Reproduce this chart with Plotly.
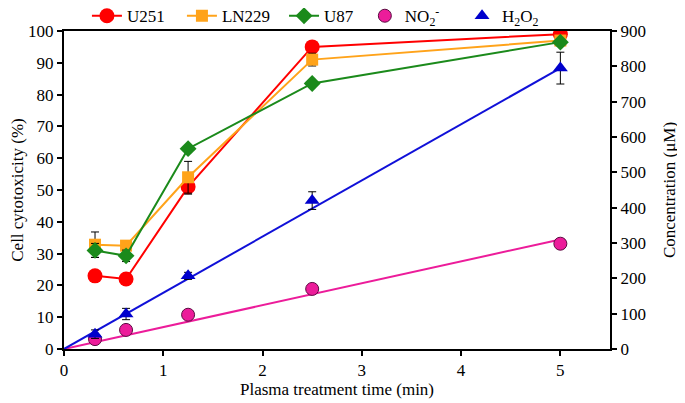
import plotly.graph_objects as go

# ---- data ----
time_min = [0.3125, 0.625, 1.25, 2.5, 5]

u251 = [23, 22, 51, 95, 99]
u251_err = [0, 0, 2.3, 0, 0]
ln229 = [32.8, 32.5, 54, 91, 97]
ln229_err = [4, 0, 5, 2, 0]
u87 = [31, 29.3, 63, 83.5, 96.5]
u87_err = [2.2, 1.8, 0, 0, 0]

no2 = [28, 54, 97, 170, 298]
no2_err = [0, 0, 0, 0, 12]
h2o2 = [42, 99, 207, 420, 795]
h2o2_err = [12, 16, 10, 25, 45]

fit_x = [0, 5]
no2_fit = [0, 310]
h2o2_fit = [0, 795]

x_ticks = [0, 1, 2, 3, 4, 5]

FONT = "Liberation Serif"
RED = "#FF0000"
ORANGE = "#FFA31A"
GREEN = "#1B8A1B"
PINK = "#EC1C9A"
BLUE = "#1010D8"

def err(arr):
    return dict(type="data", array=arr, visible=True, color="black",
                thickness=1, width=4)

fig = go.Figure()

# fit lines (secondary axis)
fig.add_trace(go.Scatter(x=fit_x, y=no2_fit, mode="lines", yaxis="y2",
                         line=dict(color=PINK, width=2), showlegend=False,
                         hoverinfo="skip"))
fig.add_trace(go.Scatter(x=fit_x, y=h2o2_fit, mode="lines", yaxis="y2",
                         line=dict(color=BLUE, width=2), showlegend=False,
                         hoverinfo="skip"))

fig.add_trace(go.Scatter(x=time_min, y=u251, name="U251", mode="lines+markers",
                         line=dict(color=RED, width=2), legend="legend",
                         marker=dict(symbol="circle", size=15, color=RED),
                         error_y=err(u251_err)))
fig.add_trace(go.Scatter(x=time_min, y=ln229, name="LN229", mode="lines+markers",
                         line=dict(color=ORANGE, width=2), legend="legend2",
                         marker=dict(symbol="square", size=12, color=ORANGE),
                         error_y=err(ln229_err)))
fig.add_trace(go.Scatter(x=time_min, y=u87, name="U87", mode="lines+markers",
                         line=dict(color=GREEN, width=2), legend="legend3",
                         marker=dict(symbol="diamond", size=13, color=GREEN),
                         error_y=err(u87_err)))
fig.add_trace(go.Scatter(x=time_min, y=no2, name="NO<sub>2</sub><sup>-</sup>",
                         mode="markers", yaxis="y2", legend="legend4",
                         marker=dict(symbol="circle", size=13, color=PINK,
                                     line=dict(color="#5a0a40", width=1)),
                         error_y=err(no2_err)))
fig.add_trace(go.Scatter(x=time_min, y=h2o2, name="H<sub>2</sub>O<sub>2</sub>",
                         mode="markers", yaxis="y2", legend="legend5",
                         marker=dict(symbol="triangle-up", size=13, color="#0000CC"),
                         error_y=err(h2o2_err)))

FS = 17
axis_common = dict(showline=True, linecolor="black", linewidth=2,
                   ticks="outside", ticklen=5, tickwidth=2, tickcolor="black",
                   showgrid=False, zeroline=False, automargin=False,
                   tickfont=dict(family=FONT, size=FS, color="black"),
                   title_font=dict(family=FONT, size=FS, color="black"))

def leg(x):
    return dict(orientation="h", x=x, y=0.99, xanchor="left", yanchor="bottom",
                font=dict(family=FONT, size=FS, color="black"),
                bgcolor="rgba(0,0,0,0)", itemwidth=30)

fig.update_layout(
    width=677, height=395,
    margin=dict(l=56, r=75, t=23, b=54, autoexpand=False),
    paper_bgcolor="white", plot_bgcolor="white",
    font=dict(family=FONT, size=FS, color="black"),
    xaxis=dict(range=[0, 5.5], tickvals=x_ticks, mirror=True,
               title=dict(text="Plasma treatment time (min)", standoff=2),
               **axis_common),
    yaxis=dict(range=[0, 100], dtick=10,
               title=dict(text="Cell cytotoxicity (%)", standoff=11),
               **axis_common),
    yaxis2=dict(range=[0, 900], dtick=100, overlaying="y", side="right",
                title=dict(text="Concentration (μM)", standoff=18),
                **axis_common),
    legend=leg(0.042),
    legend2=leg(0.216),
    legend3=leg(0.403),
    legend4=leg(0.551),
    legend5=leg(0.729),
)

fig.write_html("out.html")
